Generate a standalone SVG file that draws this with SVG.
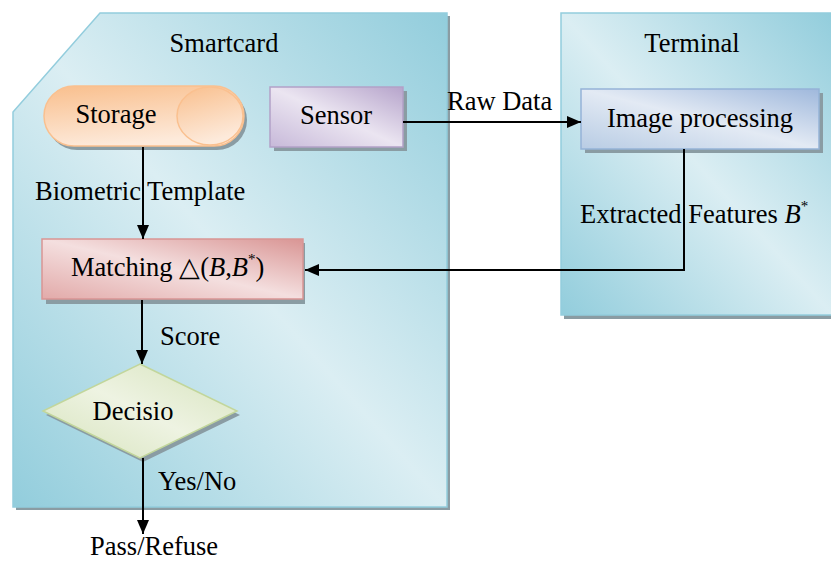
<svg xmlns="http://www.w3.org/2000/svg" width="831" height="563" viewBox="0 0 831 563">
<defs>
<linearGradient id="gBg" x1="0" y1="1" x2="1" y2="0">
<stop offset="0" stop-color="#92cddc"/>
<stop offset="0.5" stop-color="#dbeef3"/>
<stop offset="1" stop-color="#92cddc"/>
</linearGradient>
<linearGradient id="gOr" x1="0" y1="0" x2="0.3" y2="1">
<stop offset="0" stop-color="#f9bf8d"/>
<stop offset="1" stop-color="#fdeadb"/>
</linearGradient>
<linearGradient id="gPu" x1="0" y1="1" x2="1" y2="0">
<stop offset="0" stop-color="#c7b9d9"/>
<stop offset="0.5" stop-color="#ebe5f1"/>
<stop offset="1" stop-color="#b6a4cb"/>
</linearGradient>
<linearGradient id="gBl" x1="0" y1="1" x2="1" y2="0">
<stop offset="0" stop-color="#b8cce4"/>
<stop offset="0.5" stop-color="#e3eaf4"/>
<stop offset="1" stop-color="#9fb8dc"/>
</linearGradient>
<linearGradient id="gRe" x1="0" y1="1" x2="1" y2="0">
<stop offset="0" stop-color="#e2aaa9"/>
<stop offset="0.5" stop-color="#f4dfdf"/>
<stop offset="1" stop-color="#d99594"/>
</linearGradient>
<linearGradient id="gGr" x1="0" y1="1" x2="1" y2="0">
<stop offset="0" stop-color="#d6e3bc"/>
<stop offset="0.5" stop-color="#eef3e2"/>
<stop offset="1" stop-color="#d6e3bc"/>
</linearGradient>
<marker id="ah" viewBox="0 0 14 12" refX="14" refY="6" markerWidth="14" markerHeight="12" markerUnits="userSpaceOnUse" orient="auto">
<path d="M0,0 L14,6 L0,12 Z" fill="#000"/>
</marker>
<style>
text{font-family:"Liberation Serif","Times New Roman",serif;font-size:26.5px;fill:#000}
.c{text-anchor:middle}
.sh{fill:#8a9ca3}
.ln{stroke:#000;stroke-width:2;fill:none}
</style>
</defs>

<g id="smartcard">
<path class="sh" d="M103,16 L450,16 L450,510 L16,510 L16,115 Z"/>
<path d="M100,13 L447,13 L447,507 L13,507 L13,112 Z" fill="url(#gBg)" stroke="#93cddd" stroke-width="1.5"/>
<text class="c" x="224" y="52">Smartcard</text>
</g>

<g id="terminal">
<rect class="sh" x="564" y="16" width="270" height="303"/>
<rect x="561" y="13" width="272" height="302" fill="url(#gBg)" stroke="#93cddd" stroke-width="1.5"/>
<text class="c" x="692" y="52">Terminal</text>
</g>

<g id="storage">
<rect class="sh" x="47" y="90" width="200" height="60" rx="30"/>
<rect x="44" y="86" width="200" height="60" rx="30" fill="url(#gOr)" stroke="#fac08f" stroke-width="1.5"/>
<ellipse cx="210" cy="116" rx="33" ry="29" fill="url(#gOr)" stroke="#fac08f" stroke-width="1.5"/>
<text class="c" x="116" y="123">Storage</text>
</g>

<g id="sensor">
<rect class="sh" x="274" y="91" width="133" height="60"/>
<rect x="270" y="87" width="133" height="60" fill="url(#gPu)" stroke="#b2a1c7" stroke-width="1.5"/>
<text class="c" x="336" y="124">Sensor</text>
</g>

<g id="imageproc">
<rect class="sh" x="585" y="93" width="238" height="60"/>
<rect x="581" y="89" width="238" height="60" fill="url(#gBl)" stroke="#95b3d7" stroke-width="1.5"/>
<text class="c" x="700" y="127">Image processing</text>
</g>

<g id="matching">
<rect class="sh" x="46" y="243" width="259" height="61"/>
<rect x="42" y="239" width="261" height="60" fill="url(#gRe)" stroke="#d99594" stroke-width="1.5"/>
<text x="71" y="276">Matching △(<tspan font-style="italic">B</tspan>,<tspan font-style="italic">B</tspan><tspan font-size="15" dy="-12">*</tspan><tspan dy="12">)</tspan></text>
</g>

<g id="decision">
<path class="sh" d="M143,368 L240,415 L143,462 L46,415 Z"/>
<path d="M140,364 L237,411 L140,458 L43,411 Z" fill="url(#gGr)" stroke="#c2d69b" stroke-width="1.5"/>
<text class="c" x="133" y="420">Decisio</text>
</g>

<g id="connectors">
<line class="ln" x1="143" y1="147" x2="143" y2="239" marker-end="url(#ah)"/>
<line class="ln" x1="403" y1="122" x2="581" y2="122" marker-end="url(#ah)"/>
<polyline class="ln" points="684,149 684,270 305,270" marker-end="url(#ah)"/>
<line class="ln" x1="142" y1="300" x2="142" y2="364" marker-end="url(#ah)"/>
<line class="ln" x1="143" y1="458" x2="143" y2="534" marker-end="url(#ah)"/>
</g>

<g id="labels">
<text x="447" y="110">Raw Data</text>
<text x="35" y="200">Biometric Template</text>
<text x="580" y="223">Extracted Features <tspan font-style="italic">B</tspan><tspan font-size="15" dy="-12">*</tspan></text>
<text x="160" y="345">Score</text>
<text x="158" y="490">Yes/No</text>
<text x="90" y="555">Pass/Refuse</text>
</g>
</svg>
